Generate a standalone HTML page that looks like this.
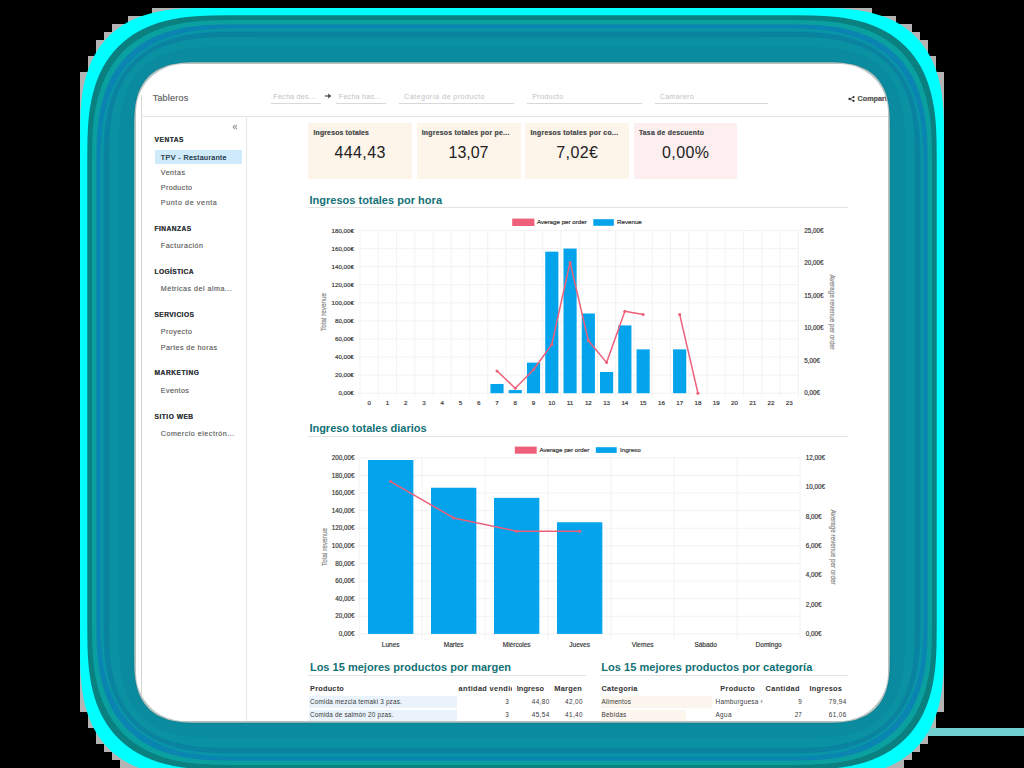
<!DOCTYPE html>
<html><head><meta charset="utf-8"><style>
html,body{margin:0;padding:0;}
body{width:1024px;height:768px;background:#000;overflow:hidden;position:relative;font-family:"Liberation Sans", sans-serif;}
#panel{position:absolute;left:135.6px;top:63.6px;width:752.8px;height:657.8px;border-radius:48px;overflow:hidden;background:#fff;}
#inner{position:absolute;left:-135.6px;top:-63.6px;width:1024px;height:768px;}
#wrap{position:absolute;left:0;top:0;width:1024px;height:768px;}
</style></head><body><div id="wrap">
<svg style="position:absolute;left:0;top:0" width="1024" height="768"><polygon points="80,72 88,72 88,56 96,56 96,40 104,40 104,32 112,32 112,24 128,24 128,16 152,16 152,8 872,8 872,16 896,16 896,24 912,24 912,32 920,32 920,40 928,40 928,56 936,56 936,72 944,72 944,712 936,712 936,728 928,728 928,744 920,744 920,752 912,752 912,760 904,760 904,768 120,768 120,760 112,760 112,752 104,752 104,744 96,744 96,728 88,728 88,712 80,712" fill="#b4b4b4"/>
<rect x="928" y="728" width="96" height="8" fill="#70d0d0"/>
<path d="M814.00,8.00 L830.60,8.15 L841.21,8.58 L850.28,9.31 L858.44,10.34 L865.94,11.65 L872.92,13.25 L879.46,15.15 L885.60,17.33 L891.38,19.80 L896.83,22.57 L901.95,25.62 L906.77,28.96 L911.28,32.59 L915.49,36.51 L919.41,40.72 L923.04,45.23 L926.38,50.05 L929.43,55.17 L932.20,60.62 L934.67,66.40 L936.85,72.54 L938.75,79.08 L940.35,86.06 L941.66,93.56 L942.69,101.72 L943.42,110.79 L943.85,121.40 L944.00,138.00 L944.00,647.00 L943.85,663.60 L943.42,674.21 L942.69,683.28 L941.66,691.44 L940.35,698.94 L938.75,705.92 L936.85,712.46 L934.67,718.60 L932.20,724.38 L929.43,729.83 L926.38,734.95 L923.04,739.77 L919.41,744.28 L915.49,748.49 L911.28,752.41 L906.77,756.04 L901.95,759.38 L896.83,762.43 L891.38,765.20 L885.60,767.67 L879.46,769.85 L872.92,771.75 L865.94,773.35 L858.44,774.66 L850.28,775.69 L841.21,776.42 L830.60,776.85 L814.00,777.00 L210.00,777.00 L193.40,776.85 L182.79,776.42 L173.72,775.69 L165.56,774.66 L158.06,773.35 L151.08,771.75 L144.54,769.85 L138.40,767.67 L132.62,765.20 L127.17,762.43 L122.05,759.38 L117.23,756.04 L112.72,752.41 L108.51,748.49 L104.59,744.28 L100.96,739.77 L97.62,734.95 L94.57,729.83 L91.80,724.38 L89.33,718.60 L87.15,712.46 L85.25,705.92 L83.65,698.94 L82.34,691.44 L81.31,683.28 L80.58,674.21 L80.15,663.60 L80.00,647.00 L80.00,138.00 L80.15,121.40 L80.58,110.79 L81.31,101.72 L82.34,93.56 L83.65,86.06 L85.25,79.08 L87.15,72.54 L89.33,66.40 L91.80,60.62 L94.57,55.17 L97.62,50.05 L100.96,45.23 L104.59,40.72 L108.51,36.51 L112.72,32.59 L117.23,28.96 L122.05,25.62 L127.17,22.57 L132.62,19.80 L138.40,17.33 L144.54,15.15 L151.08,13.25 L158.06,11.65 L165.56,10.34 L173.72,9.31 L182.79,8.58 L193.40,8.15 L210.00,8.00 Z" fill="#00ffff"/>
<path d="M794.70,15.30 L812.84,15.46 L824.42,15.94 L834.33,16.74 L843.24,17.85 L851.44,19.29 L859.06,21.04 L866.20,23.11 L872.91,25.49 L879.23,28.19 L885.18,31.21 L890.77,34.54 L896.03,38.19 L900.96,42.16 L905.56,46.44 L909.84,51.04 L913.81,55.97 L917.46,61.23 L920.79,66.82 L923.81,72.77 L926.51,79.09 L928.89,85.80 L930.96,92.94 L932.71,100.56 L934.15,108.76 L935.26,117.67 L936.06,127.58 L936.54,139.16 L936.70,157.30 L936.70,627.70 L936.54,645.84 L936.06,657.42 L935.26,667.33 L934.15,676.24 L932.71,684.44 L930.96,692.06 L928.89,699.20 L926.51,705.91 L923.81,712.23 L920.79,718.18 L917.46,723.77 L913.81,729.03 L909.84,733.96 L905.56,738.56 L900.96,742.84 L896.03,746.81 L890.77,750.46 L885.18,753.79 L879.23,756.81 L872.91,759.51 L866.20,761.89 L859.06,763.96 L851.44,765.71 L843.24,767.15 L834.33,768.26 L824.42,769.06 L812.84,769.54 L794.70,769.70 L229.30,769.70 L211.16,769.54 L199.58,769.06 L189.67,768.26 L180.76,767.15 L172.56,765.71 L164.94,763.96 L157.80,761.89 L151.09,759.51 L144.77,756.81 L138.82,753.79 L133.23,750.46 L127.97,746.81 L123.04,742.84 L118.44,738.56 L114.16,733.96 L110.19,729.03 L106.54,723.77 L103.21,718.18 L100.19,712.23 L97.49,705.91 L95.11,699.20 L93.04,692.06 L91.29,684.44 L89.85,676.24 L88.74,667.33 L87.94,657.42 L87.46,645.84 L87.30,627.70 L87.30,157.30 L87.46,139.16 L87.94,127.58 L88.74,117.67 L89.85,108.76 L91.29,100.56 L93.04,92.94 L95.11,85.80 L97.49,79.09 L100.19,72.77 L103.21,66.82 L106.54,61.23 L110.19,55.97 L114.16,51.04 L118.44,46.44 L123.04,42.16 L127.97,38.19 L133.23,34.54 L138.82,31.21 L144.77,28.19 L151.09,25.49 L157.80,23.11 L164.94,21.04 L172.56,19.29 L180.76,17.85 L189.67,16.74 L199.58,15.94 L211.16,15.46 L229.30,15.30 Z" fill="#0a8080"/>
<path d="M789.00,20.00 L807.26,20.16 L818.93,20.64 L828.91,21.45 L837.88,22.57 L846.14,24.01 L853.82,25.78 L861.01,27.86 L867.76,30.26 L874.12,32.99 L880.11,36.02 L885.75,39.38 L891.04,43.05 L896.01,47.05 L900.64,51.36 L904.95,55.99 L908.95,60.96 L912.62,66.25 L915.98,71.89 L919.01,77.88 L921.74,84.24 L924.14,90.99 L926.22,98.18 L927.99,105.86 L929.43,114.12 L930.55,123.09 L931.36,133.07 L931.84,144.74 L932.00,163.00 L932.00,622.00 L931.84,640.26 L931.36,651.93 L930.55,661.91 L929.43,670.88 L927.99,679.14 L926.22,686.82 L924.14,694.01 L921.74,700.76 L919.01,707.12 L915.98,713.11 L912.62,718.75 L908.95,724.04 L904.95,729.01 L900.64,733.64 L896.01,737.95 L891.04,741.95 L885.75,745.62 L880.11,748.98 L874.12,752.01 L867.76,754.74 L861.01,757.14 L853.82,759.22 L846.14,760.99 L837.88,762.43 L828.91,763.55 L818.93,764.36 L807.26,764.84 L789.00,765.00 L235.00,765.00 L216.74,764.84 L205.07,764.36 L195.09,763.55 L186.12,762.43 L177.86,760.99 L170.18,759.22 L162.99,757.14 L156.24,754.74 L149.88,752.01 L143.89,748.98 L138.25,745.62 L132.96,741.95 L127.99,737.95 L123.36,733.64 L119.05,729.01 L115.05,724.04 L111.38,718.75 L108.02,713.11 L104.99,707.12 L102.26,700.76 L99.86,694.01 L97.78,686.82 L96.01,679.14 L94.57,670.88 L93.45,661.91 L92.64,651.93 L92.16,640.26 L92.00,622.00 L92.00,163.00 L92.16,144.74 L92.64,133.07 L93.45,123.09 L94.57,114.12 L96.01,105.86 L97.78,98.18 L99.86,90.99 L102.26,84.24 L104.99,77.88 L108.02,71.89 L111.38,66.25 L115.05,60.96 L119.05,55.99 L123.36,51.36 L127.99,47.05 L132.96,43.05 L138.25,39.38 L143.89,36.02 L149.88,32.99 L156.24,30.26 L162.99,27.86 L170.18,25.78 L177.86,24.01 L186.12,22.57 L195.09,21.45 L205.07,20.64 L216.74,20.16 L235.00,20.00 Z" fill="#0aa0a0"/>
<path d="M785.70,24.30 L803.84,24.46 L815.42,24.94 L825.33,25.74 L834.24,26.85 L842.44,28.29 L850.06,30.04 L857.20,32.11 L863.91,34.49 L870.23,37.19 L876.18,40.21 L881.77,43.54 L887.03,47.19 L891.96,51.16 L896.56,55.44 L900.84,60.04 L904.81,64.97 L908.46,70.23 L911.79,75.82 L914.81,81.77 L917.51,88.09 L919.89,94.80 L921.96,101.94 L923.71,109.56 L925.15,117.76 L926.26,126.67 L927.06,136.58 L927.54,148.16 L927.70,166.30 L927.70,618.70 L927.54,636.84 L927.06,648.42 L926.26,658.33 L925.15,667.24 L923.71,675.44 L921.96,683.06 L919.89,690.20 L917.51,696.91 L914.81,703.23 L911.79,709.18 L908.46,714.77 L904.81,720.03 L900.84,724.96 L896.56,729.56 L891.96,733.84 L887.03,737.81 L881.77,741.46 L876.18,744.79 L870.23,747.81 L863.91,750.51 L857.20,752.89 L850.06,754.96 L842.44,756.71 L834.24,758.15 L825.33,759.26 L815.42,760.06 L803.84,760.54 L785.70,760.70 L238.30,760.70 L220.16,760.54 L208.58,760.06 L198.67,759.26 L189.76,758.15 L181.56,756.71 L173.94,754.96 L166.80,752.89 L160.09,750.51 L153.77,747.81 L147.82,744.79 L142.23,741.46 L136.97,737.81 L132.04,733.84 L127.44,729.56 L123.16,724.96 L119.19,720.03 L115.54,714.77 L112.21,709.18 L109.19,703.23 L106.49,696.91 L104.11,690.20 L102.04,683.06 L100.29,675.44 L98.85,667.24 L97.74,658.33 L96.94,648.42 L96.46,636.84 L96.30,618.70 L96.30,166.30 L96.46,148.16 L96.94,136.58 L97.74,126.67 L98.85,117.76 L100.29,109.56 L102.04,101.94 L104.11,94.80 L106.49,88.09 L109.19,81.77 L112.21,75.82 L115.54,70.23 L119.19,64.97 L123.16,60.04 L127.44,55.44 L132.04,51.16 L136.97,47.19 L142.23,43.54 L147.82,40.21 L153.77,37.19 L160.09,34.49 L166.80,32.11 L173.94,30.04 L181.56,28.29 L189.76,26.85 L198.67,25.74 L208.58,24.94 L220.16,24.46 L238.30,24.30 Z" fill="#0a84b0"/>
<path d="M780.70,28.30 L798.96,28.46 L810.63,28.94 L820.61,29.75 L829.58,30.87 L837.84,32.31 L845.52,34.08 L852.71,36.16 L859.46,38.56 L865.82,41.29 L871.81,44.32 L877.45,47.68 L882.74,51.35 L887.71,55.35 L892.34,59.66 L896.65,64.29 L900.65,69.26 L904.32,74.55 L907.68,80.19 L910.71,86.18 L913.44,92.54 L915.84,99.29 L917.92,106.48 L919.69,114.16 L921.13,122.42 L922.25,131.39 L923.06,141.37 L923.54,153.04 L923.70,171.30 L923.70,613.70 L923.54,631.96 L923.06,643.63 L922.25,653.61 L921.13,662.58 L919.69,670.84 L917.92,678.52 L915.84,685.71 L913.44,692.46 L910.71,698.82 L907.68,704.81 L904.32,710.45 L900.65,715.74 L896.65,720.71 L892.34,725.34 L887.71,729.65 L882.74,733.65 L877.45,737.32 L871.81,740.68 L865.82,743.71 L859.46,746.44 L852.71,748.84 L845.52,750.92 L837.84,752.69 L829.58,754.13 L820.61,755.25 L810.63,756.06 L798.96,756.54 L780.70,756.70 L243.30,756.70 L225.04,756.54 L213.37,756.06 L203.39,755.25 L194.42,754.13 L186.16,752.69 L178.48,750.92 L171.29,748.84 L164.54,746.44 L158.18,743.71 L152.19,740.68 L146.55,737.32 L141.26,733.65 L136.29,729.65 L131.66,725.34 L127.35,720.71 L123.35,715.74 L119.68,710.45 L116.32,704.81 L113.29,698.82 L110.56,692.46 L108.16,685.71 L106.08,678.52 L104.31,670.84 L102.87,662.58 L101.75,653.61 L100.94,643.63 L100.46,631.96 L100.30,613.70 L100.30,171.30 L100.46,153.04 L100.94,141.37 L101.75,131.39 L102.87,122.42 L104.31,114.16 L106.08,106.48 L108.16,99.29 L110.56,92.54 L113.29,86.18 L116.32,80.19 L119.68,74.55 L123.35,69.26 L127.35,64.29 L131.66,59.66 L136.29,55.35 L141.26,51.35 L146.55,47.68 L152.19,44.32 L158.18,41.29 L164.54,38.56 L171.29,36.16 L178.48,34.08 L186.16,32.31 L194.42,30.87 L203.39,29.75 L213.37,28.94 L225.04,28.46 L243.30,28.30 Z" fill="#0a94a8"/>
<path d="M784.50,31.50 L801.87,31.65 L812.96,32.11 L822.46,32.88 L830.99,33.94 L838.84,35.32 L846.14,37.00 L852.98,38.98 L859.41,41.26 L865.46,43.85 L871.15,46.74 L876.51,49.93 L881.55,53.42 L886.27,57.22 L890.68,61.32 L894.78,65.73 L898.58,70.45 L902.07,75.49 L905.26,80.85 L908.15,86.54 L910.74,92.59 L913.02,99.02 L915.00,105.86 L916.68,113.16 L918.06,121.01 L919.12,129.54 L919.89,139.04 L920.35,150.13 L920.50,167.50 L920.50,617.50 L920.35,634.87 L919.89,645.96 L919.12,655.46 L918.06,663.99 L916.68,671.84 L915.00,679.14 L913.02,685.98 L910.74,692.41 L908.15,698.46 L905.26,704.15 L902.07,709.51 L898.58,714.55 L894.78,719.27 L890.68,723.68 L886.27,727.78 L881.55,731.58 L876.51,735.07 L871.15,738.26 L865.46,741.15 L859.41,743.74 L852.98,746.02 L846.14,748.00 L838.84,749.68 L830.99,751.06 L822.46,752.12 L812.96,752.89 L801.87,753.35 L784.50,753.50 L239.50,753.50 L222.13,753.35 L211.04,752.89 L201.54,752.12 L193.01,751.06 L185.16,749.68 L177.86,748.00 L171.02,746.02 L164.59,743.74 L158.54,741.15 L152.85,738.26 L147.49,735.07 L142.45,731.58 L137.73,727.78 L133.32,723.68 L129.22,719.27 L125.42,714.55 L121.93,709.51 L118.74,704.15 L115.85,698.46 L113.26,692.41 L110.98,685.98 L109.00,679.14 L107.32,671.84 L105.94,663.99 L104.88,655.46 L104.11,645.96 L103.65,634.87 L103.50,617.50 L103.50,167.50 L103.65,150.13 L104.11,139.04 L104.88,129.54 L105.94,121.01 L107.32,113.16 L109.00,105.86 L110.98,99.02 L113.26,92.59 L115.85,86.54 L118.74,80.85 L121.93,75.49 L125.42,70.45 L129.22,65.73 L133.32,61.32 L137.73,57.22 L142.45,53.42 L147.49,49.93 L152.85,46.74 L158.54,43.85 L164.59,41.26 L171.02,38.98 L177.86,37.00 L185.16,35.32 L193.01,33.94 L201.54,32.88 L211.04,32.11 L222.13,31.65 L239.50,31.50 Z" fill="#0983a0"/>
<path d="M791.80,37.20 L807.51,37.34 L817.54,37.75 L826.13,38.44 L833.85,39.41 L840.95,40.65 L847.55,42.17 L853.73,43.96 L859.55,46.03 L865.02,48.37 L870.17,50.98 L875.02,53.87 L879.57,57.03 L883.84,60.46 L887.83,64.17 L891.54,68.16 L894.97,72.43 L898.13,76.98 L901.02,81.83 L903.63,86.98 L905.97,92.45 L908.04,98.27 L909.83,104.45 L911.35,111.05 L912.59,118.15 L913.56,125.87 L914.25,134.46 L914.66,144.49 L914.80,160.20 L914.80,624.80 L914.66,640.51 L914.25,650.54 L913.56,659.13 L912.59,666.85 L911.35,673.95 L909.83,680.55 L908.04,686.73 L905.97,692.55 L903.63,698.02 L901.02,703.17 L898.13,708.02 L894.97,712.57 L891.54,716.84 L887.83,720.83 L883.84,724.54 L879.57,727.97 L875.02,731.13 L870.17,734.02 L865.02,736.63 L859.55,738.97 L853.73,741.04 L847.55,742.83 L840.95,744.35 L833.85,745.59 L826.13,746.56 L817.54,747.25 L807.51,747.66 L791.80,747.80 L232.20,747.80 L216.49,747.66 L206.46,747.25 L197.87,746.56 L190.15,745.59 L183.05,744.35 L176.45,742.83 L170.27,741.04 L164.45,738.97 L158.98,736.63 L153.83,734.02 L148.98,731.13 L144.43,727.97 L140.16,724.54 L136.17,720.83 L132.46,716.84 L129.03,712.57 L125.87,708.02 L122.98,703.17 L120.37,698.02 L118.03,692.55 L115.96,686.73 L114.17,680.55 L112.65,673.95 L111.41,666.85 L110.44,659.13 L109.75,650.54 L109.34,640.51 L109.20,624.80 L109.20,160.20 L109.34,144.49 L109.75,134.46 L110.44,125.87 L111.41,118.15 L112.65,111.05 L114.17,104.45 L115.96,98.27 L118.03,92.45 L120.37,86.98 L122.98,81.83 L125.87,76.98 L129.03,72.43 L132.46,68.16 L136.17,64.17 L140.16,60.46 L144.43,57.03 L148.98,53.87 L153.83,50.98 L158.98,48.37 L164.45,46.03 L170.27,43.96 L176.45,42.17 L183.05,40.65 L190.15,39.41 L197.87,38.44 L206.46,37.75 L216.49,37.34 L232.20,37.20 Z" fill="#0a92a2"/>
<path d="M805.00,47.00 L817.77,47.11 L825.93,47.45 L832.91,48.01 L839.19,48.80 L844.96,49.81 L850.33,51.04 L855.35,52.50 L860.08,54.18 L864.53,56.08 L868.71,58.21 L872.66,60.55 L876.36,63.12 L879.83,65.91 L883.07,68.93 L886.09,72.17 L888.88,75.64 L891.45,79.34 L893.79,83.29 L895.92,87.47 L897.82,91.92 L899.50,96.65 L900.96,101.67 L902.19,107.04 L903.20,112.81 L903.99,119.09 L904.55,126.07 L904.89,134.23 L905.00,147.00 L905.00,638.00 L904.89,650.77 L904.55,658.93 L903.99,665.91 L903.20,672.19 L902.19,677.96 L900.96,683.33 L899.50,688.35 L897.82,693.08 L895.92,697.53 L893.79,701.71 L891.45,705.66 L888.88,709.36 L886.09,712.83 L883.07,716.07 L879.83,719.09 L876.36,721.88 L872.66,724.45 L868.71,726.79 L864.53,728.92 L860.08,730.82 L855.35,732.50 L850.33,733.96 L844.96,735.19 L839.19,736.20 L832.91,736.99 L825.93,737.55 L817.77,737.89 L805.00,738.00 L219.00,738.00 L206.23,737.89 L198.07,737.55 L191.09,736.99 L184.81,736.20 L179.04,735.19 L173.67,733.96 L168.65,732.50 L163.92,730.82 L159.47,728.92 L155.29,726.79 L151.34,724.45 L147.64,721.88 L144.17,719.09 L140.93,716.07 L137.91,712.83 L135.12,709.36 L132.55,705.66 L130.21,701.71 L128.08,697.53 L126.18,693.08 L124.50,688.35 L123.04,683.33 L121.81,677.96 L120.80,672.19 L120.01,665.91 L119.45,658.93 L119.11,650.77 L119.00,638.00 L119.00,147.00 L119.11,134.23 L119.45,126.07 L120.01,119.09 L120.80,112.81 L121.81,107.04 L123.04,101.67 L124.50,96.65 L126.18,91.92 L128.08,87.47 L130.21,83.29 L132.55,79.34 L135.12,75.64 L137.91,72.17 L140.93,68.93 L144.17,65.91 L147.64,63.12 L151.34,60.55 L155.29,58.21 L159.47,56.08 L163.92,54.18 L168.65,52.50 L173.67,51.04 L179.04,49.81 L184.81,48.80 L191.09,48.01 L198.07,47.45 L206.23,47.11 L219.00,47.00 Z" fill="#0a8ba0"/>
<path d="M823.50,61.50 L832.06,61.58 L837.52,61.80 L842.20,62.18 L846.40,62.70 L850.27,63.38 L853.87,64.21 L857.24,65.18 L860.40,66.31 L863.38,67.58 L866.19,69.01 L868.83,70.58 L871.31,72.30 L873.64,74.17 L875.81,76.19 L877.83,78.36 L879.70,80.69 L881.42,83.17 L882.99,85.81 L884.42,88.62 L885.69,91.60 L886.82,94.76 L887.79,98.13 L888.62,101.73 L889.30,105.60 L889.82,109.80 L890.20,114.48 L890.42,119.94 L890.50,128.50 L890.50,656.50 L890.42,665.06 L890.20,670.52 L889.82,675.20 L889.30,679.40 L888.62,683.27 L887.79,686.87 L886.82,690.24 L885.69,693.40 L884.42,696.38 L882.99,699.19 L881.42,701.83 L879.70,704.31 L877.83,706.64 L875.81,708.81 L873.64,710.83 L871.31,712.70 L868.83,714.42 L866.19,715.99 L863.38,717.42 L860.40,718.69 L857.24,719.82 L853.87,720.79 L850.27,721.62 L846.40,722.30 L842.20,722.82 L837.52,723.20 L832.06,723.42 L823.50,723.50 L200.50,723.50 L191.94,723.42 L186.48,723.20 L181.80,722.82 L177.60,722.30 L173.73,721.62 L170.13,720.79 L166.76,719.82 L163.60,718.69 L160.62,717.42 L157.81,715.99 L155.17,714.42 L152.69,712.70 L150.36,710.83 L148.19,708.81 L146.17,706.64 L144.30,704.31 L142.58,701.83 L141.01,699.19 L139.58,696.38 L138.31,693.40 L137.18,690.24 L136.21,686.87 L135.38,683.27 L134.70,679.40 L134.18,675.20 L133.80,670.52 L133.58,665.06 L133.50,656.50 L133.50,128.50 L133.58,119.94 L133.80,114.48 L134.18,109.80 L134.70,105.60 L135.38,101.73 L136.21,98.13 L137.18,94.76 L138.31,91.60 L139.58,88.62 L141.01,85.81 L142.58,83.17 L144.30,80.69 L146.17,78.36 L148.19,76.19 L150.36,74.17 L152.69,72.30 L155.17,70.58 L157.81,69.01 L160.62,67.58 L163.60,66.31 L166.76,65.18 L170.13,64.21 L173.73,63.38 L177.60,62.70 L181.80,62.18 L186.48,61.80 L191.94,61.58 L200.50,61.50 Z" fill="#0c7e88"/>
<path d="M824.30,62.20 L832.67,62.27 L838.01,62.49 L842.58,62.86 L846.69,63.38 L850.47,64.04 L853.99,64.85 L857.28,65.80 L860.38,66.90 L863.29,68.15 L866.03,69.54 L868.61,71.08 L871.04,72.76 L873.31,74.59 L875.44,76.56 L877.41,78.69 L879.24,80.96 L880.92,83.39 L882.46,85.97 L883.85,88.71 L885.10,91.62 L886.20,94.72 L887.15,98.01 L887.96,101.53 L888.62,105.31 L889.14,109.42 L889.51,113.99 L889.73,119.33 L889.80,127.70 L889.80,657.30 L889.73,665.67 L889.51,671.01 L889.14,675.58 L888.62,679.69 L887.96,683.47 L887.15,686.99 L886.20,690.28 L885.10,693.38 L883.85,696.29 L882.46,699.03 L880.92,701.61 L879.24,704.04 L877.41,706.31 L875.44,708.44 L873.31,710.41 L871.04,712.24 L868.61,713.92 L866.03,715.46 L863.29,716.85 L860.38,718.10 L857.28,719.20 L853.99,720.15 L850.47,720.96 L846.69,721.62 L842.58,722.14 L838.01,722.51 L832.67,722.73 L824.30,722.80 L199.70,722.80 L191.33,722.73 L185.99,722.51 L181.42,722.14 L177.31,721.62 L173.53,720.96 L170.01,720.15 L166.72,719.20 L163.62,718.10 L160.71,716.85 L157.97,715.46 L155.39,713.92 L152.96,712.24 L150.69,710.41 L148.56,708.44 L146.59,706.31 L144.76,704.04 L143.08,701.61 L141.54,699.03 L140.15,696.29 L138.90,693.38 L137.80,690.28 L136.85,686.99 L136.04,683.47 L135.38,679.69 L134.86,675.58 L134.49,671.01 L134.27,665.67 L134.20,657.30 L134.20,127.70 L134.27,119.33 L134.49,113.99 L134.86,109.42 L135.38,105.31 L136.04,101.53 L136.85,98.01 L137.80,94.72 L138.90,91.62 L140.15,88.71 L141.54,85.97 L143.08,83.39 L144.76,80.96 L146.59,78.69 L148.56,76.56 L150.69,74.59 L152.96,72.76 L155.39,71.08 L157.97,69.54 L160.71,68.15 L163.62,66.90 L166.72,65.80 L170.01,64.85 L173.53,64.04 L177.31,63.38 L181.42,62.86 L185.99,62.49 L191.33,62.27 L199.70,62.20 Z" fill="#b7c3c3"/>
</svg>
<div id="panel"><div id="inner">
<div style="position:absolute;left:141px;top:95px;width:1px;height:640px;background:#d4d4d4"></div>
<div style="position:absolute;left:141px;top:116px;width:760px;height:1px;background:#e4e4e4"></div>
<div style="position:absolute;left:246px;top:117px;width:1px;height:620px;background:#e6e6e6"></div>
<div style="position:absolute;left:152.7px;top:93.10px;font-size:9px;line-height:10.80px;color:#777;font-weight:normal;white-space:nowrap;text-shadow:0 0 0.5px currentColor;letter-spacing:0.212px;">Tableros</div>
<div style="position:absolute;left:271px;top:103px;width:50px;height:1px;background:#d8d8d8"></div>
<div style="position:absolute;left:273.3px;top:93.08px;font-size:7.2px;line-height:8.64px;color:#c2c2c2;font-weight:normal;white-space:nowrap;letter-spacing:0.207px;">Fecha des...</div>
<div style="position:absolute;left:336px;top:103px;width:50px;height:1px;background:#d8d8d8"></div>
<div style="position:absolute;left:338.8px;top:93.08px;font-size:7.2px;line-height:8.64px;color:#c2c2c2;font-weight:normal;white-space:nowrap;letter-spacing:0.207px;">Fecha has...</div>
<div style="position:absolute;left:399px;top:103px;width:115px;height:1px;background:#d8d8d8"></div>
<div style="position:absolute;left:404px;top:93.08px;font-size:7.2px;line-height:8.64px;color:#c2c2c2;font-weight:normal;white-space:nowrap;letter-spacing:0.443px;">Categoría de producto</div>
<div style="position:absolute;left:527px;top:103px;width:115px;height:1px;background:#d8d8d8"></div>
<div style="position:absolute;left:532.2px;top:93.08px;font-size:7.2px;line-height:8.64px;color:#c2c2c2;font-weight:normal;white-space:nowrap;letter-spacing:0.312px;">Producto</div>
<div style="position:absolute;left:655px;top:103px;width:113px;height:1px;background:#d8d8d8"></div>
<div style="position:absolute;left:659.8px;top:93.08px;font-size:7.2px;line-height:8.64px;color:#c2c2c2;font-weight:normal;white-space:nowrap;letter-spacing:0.285px;">Camarero</div>
<svg style="position:absolute;left:324px;top:93px" width="8" height="6" viewBox="0 0 8 6"><rect x="0.8" y="2.1" width="3.8" height="1.8" fill="#8a8a8a"/><path d="M4.2 0.6 L7.2 3.1 L4.2 5.6 Z" fill="#454545"/></svg>
<svg style="position:absolute;left:848px;top:95.5px" width="7" height="6" viewBox="0 0 7 6"><circle cx="5.6" cy="1.1" r="1.05" fill="#333"/><circle cx="5.6" cy="4.9" r="1.05" fill="#333"/><circle cx="1.5" cy="3" r="1.15" fill="#333"/><path d="M1.5 3 L5.6 1.1 M1.5 3 L5.6 4.9" stroke="#333" stroke-width="0.8"/></svg>
<div style="position:absolute;left:857.6px;top:94.58px;font-size:7.2px;line-height:8.64px;color:#666;font-weight:bold;white-space:nowrap;text-shadow:0 0 0.5px currentColor;">Compartir</div>
<svg style="position:absolute;left:231px;top:123px" width="8" height="8" viewBox="0 0 8 8"><path d="M3.9 1.9 L2.1 4 L3.9 6.1 M6.1 1.9 L4.3 4 L6.1 6.1" fill="none" stroke="#9a9a9a" stroke-width="1.05"/></svg>
<div style="position:absolute;left:154.5px;top:150px;width:87.5px;height:14px;background:#cfeafa;border-radius:1px"></div>
<div style="position:absolute;left:154.5px;top:135.74px;font-size:6.6px;line-height:7.92px;color:#3a3f44;font-weight:bold;white-space:nowrap;text-shadow:0 0 0.5px currentColor;letter-spacing:0.544px;">VENTAS</div>
<div style="position:absolute;left:154.5px;top:224.64px;font-size:6.6px;line-height:7.92px;color:#3a3f44;font-weight:bold;white-space:nowrap;text-shadow:0 0 0.5px currentColor;letter-spacing:0.477px;">FINANZAS</div>
<div style="position:absolute;left:154.5px;top:268.04px;font-size:6.6px;line-height:7.92px;color:#3a3f44;font-weight:bold;white-space:nowrap;text-shadow:0 0 0.5px currentColor;letter-spacing:0.384px;">LOGÍSTICA</div>
<div style="position:absolute;left:154.5px;top:310.54px;font-size:6.6px;line-height:7.92px;color:#3a3f44;font-weight:bold;white-space:nowrap;text-shadow:0 0 0.5px currentColor;letter-spacing:0.447px;">SERVICIOS</div>
<div style="position:absolute;left:154.5px;top:369.04px;font-size:6.6px;line-height:7.92px;color:#3a3f44;font-weight:bold;white-space:nowrap;text-shadow:0 0 0.5px currentColor;letter-spacing:0.567px;">MARKETING</div>
<div style="position:absolute;left:154.5px;top:412.94px;font-size:6.6px;line-height:7.92px;color:#3a3f44;font-weight:bold;white-space:nowrap;text-shadow:0 0 0.5px currentColor;letter-spacing:0.517px;">SITIO WEB</div>
<div style="position:absolute;left:160.8px;top:153.84px;font-size:7.1px;line-height:8.52px;color:#2d4350;font-weight:normal;white-space:nowrap;text-shadow:0 0 0.5px currentColor;letter-spacing:0.425px;">TPV - Restaurante</div>
<div style="position:absolute;left:160.8px;top:169.14px;font-size:7.1px;line-height:8.52px;color:#7a7a7a;font-weight:normal;white-space:nowrap;text-shadow:0 0 0.5px currentColor;letter-spacing:0.498px;">Ventas</div>
<div style="position:absolute;left:160.8px;top:183.74px;font-size:7.1px;line-height:8.52px;color:#7a7a7a;font-weight:normal;white-space:nowrap;text-shadow:0 0 0.5px currentColor;letter-spacing:0.398px;">Producto</div>
<div style="position:absolute;left:160.8px;top:198.74px;font-size:7.1px;line-height:8.52px;color:#7a7a7a;font-weight:normal;white-space:nowrap;text-shadow:0 0 0.5px currentColor;letter-spacing:0.634px;">Punto de venta</div>
<div style="position:absolute;left:160.8px;top:241.94px;font-size:7.1px;line-height:8.52px;color:#7a7a7a;font-weight:normal;white-space:nowrap;text-shadow:0 0 0.5px currentColor;letter-spacing:0.511px;">Facturación</div>
<div style="position:absolute;left:160.8px;top:285.14px;font-size:7.1px;line-height:8.52px;color:#7a7a7a;font-weight:normal;white-space:nowrap;text-shadow:0 0 0.5px currentColor;letter-spacing:0.497px;">Métricas del alma...</div>
<div style="position:absolute;left:160.8px;top:328.14px;font-size:7.1px;line-height:8.52px;color:#7a7a7a;font-weight:normal;white-space:nowrap;text-shadow:0 0 0.5px currentColor;letter-spacing:0.455px;">Proyecto</div>
<div style="position:absolute;left:160.8px;top:343.94px;font-size:7.1px;line-height:8.52px;color:#7a7a7a;font-weight:normal;white-space:nowrap;text-shadow:0 0 0.5px currentColor;letter-spacing:0.434px;">Partes de horas</div>
<div style="position:absolute;left:160.8px;top:387.34px;font-size:7.1px;line-height:8.52px;color:#7a7a7a;font-weight:normal;white-space:nowrap;text-shadow:0 0 0.5px currentColor;letter-spacing:0.408px;">Eventos</div>
<div style="position:absolute;left:160.8px;top:430.14px;font-size:7.1px;line-height:8.52px;color:#7a7a7a;font-weight:normal;white-space:nowrap;text-shadow:0 0 0.5px currentColor;letter-spacing:0.520px;">Comercio electrón...</div>
<div style="position:absolute;left:308.2px;top:123.4px;width:103.5px;height:56px;background:#fdf4ea"></div>
<div style="position:absolute;left:313.4px;top:128.52px;font-size:6.8px;line-height:8.16px;color:#5a5a5a;font-weight:bold;white-space:nowrap;text-shadow:0 0 0.5px currentColor;letter-spacing:0.224px;">Ingresos totales</div>
<div style="position:absolute;left:308.2px;top:142.6px;width:103.5px;text-align:center;font-size:16px;line-height:20px;color:#222;letter-spacing:0.434px;text-indent:0.434px">444,43</div>
<div style="position:absolute;left:416.5px;top:123.4px;width:104.0px;height:56px;background:#fdf4ea"></div>
<div style="position:absolute;left:421.7px;top:128.52px;font-size:6.8px;line-height:8.16px;color:#5a5a5a;font-weight:bold;white-space:nowrap;text-shadow:0 0 0.5px currentColor;letter-spacing:0.289px;">Ingresos totales por pe...</div>
<div style="position:absolute;left:416.5px;top:142.6px;width:104.0px;text-align:center;font-size:16px;line-height:20px;color:#222;letter-spacing:-0.059px;text-indent:-0.059px">13,07</div>
<div style="position:absolute;left:525.2px;top:123.4px;width:103.8px;height:56px;background:#fdf4ea"></div>
<div style="position:absolute;left:530.4000000000001px;top:128.52px;font-size:6.8px;line-height:8.16px;color:#5a5a5a;font-weight:bold;white-space:nowrap;text-shadow:0 0 0.5px currentColor;letter-spacing:0.289px;">Ingresos totales por co...</div>
<div style="position:absolute;left:525.2px;top:142.6px;width:103.8px;text-align:center;font-size:16px;line-height:20px;color:#222;letter-spacing:0.416px;text-indent:0.416px">7,02€</div>
<div style="position:absolute;left:633.7px;top:123.4px;width:103.6px;height:56px;background:#fdeef0"></div>
<div style="position:absolute;left:638.9000000000001px;top:128.52px;font-size:6.8px;line-height:8.16px;color:#5a5a5a;font-weight:bold;white-space:nowrap;text-shadow:0 0 0.5px currentColor;letter-spacing:0.268px;">Tasa de descuento</div>
<div style="position:absolute;left:633.7px;top:142.6px;width:103.6px;text-align:center;font-size:16px;line-height:20px;color:#222;letter-spacing:0.384px;text-indent:0.384px">0,00%</div>
<div style="position:absolute;left:309.4px;top:193.90px;font-size:11px;line-height:13.20px;color:#127176;font-weight:bold;white-space:nowrap;letter-spacing:0.024px;">Ingresos totales por hora</div>
<div style="position:absolute;left:308px;top:207px;width:540px;height:1px;background:#e2e2e2"></div>
<div style="position:absolute;left:309.4px;top:422.00px;font-size:11px;line-height:13.20px;color:#127176;font-weight:bold;white-space:nowrap;letter-spacing:-0.007px;">Ingreso totales diarios</div>
<div style="position:absolute;left:308px;top:435.7px;width:540px;height:1px;background:#e2e2e2"></div>
<div style="position:absolute;left:309.9px;top:660.90px;font-size:11px;line-height:13.20px;color:#127176;font-weight:bold;white-space:nowrap;letter-spacing:0.018px;">Los 15 mejores productos por margen</div>
<div style="position:absolute;left:308px;top:675px;width:278px;height:1px;background:#e2e2e2"></div>
<div style="position:absolute;left:601.3px;top:660.90px;font-size:11px;line-height:13.20px;color:#127176;font-weight:bold;white-space:nowrap;letter-spacing:0.036px;">Los 15 mejores productos por categoría</div>
<div style="position:absolute;left:600px;top:675px;width:248px;height:1px;background:#e2e2e2"></div>
<svg style="position:absolute;left:0;top:0" width="1024" height="768" font-family='"Liberation Sans", sans-serif'><style>text{stroke:currentColor;stroke-width:0.18px;}</style>
<line x1="358.0" y1="393.20" x2="798.4" y2="393.20" stroke="#efefef" stroke-width="0.8"/>
<text x="353.8" y="395.30" font-size="6.15" fill="#383838" color="#383838" text-anchor="end">0,00€</text>
<line x1="358.0" y1="375.12" x2="798.4" y2="375.12" stroke="#efefef" stroke-width="0.8"/>
<text x="353.8" y="377.22" font-size="6.15" fill="#383838" color="#383838" text-anchor="end">20,00€</text>
<line x1="358.0" y1="357.04" x2="798.4" y2="357.04" stroke="#efefef" stroke-width="0.8"/>
<text x="353.8" y="359.14" font-size="6.15" fill="#383838" color="#383838" text-anchor="end">40,00€</text>
<line x1="358.0" y1="338.97" x2="798.4" y2="338.97" stroke="#efefef" stroke-width="0.8"/>
<text x="353.8" y="341.07" font-size="6.15" fill="#383838" color="#383838" text-anchor="end">60,00€</text>
<line x1="358.0" y1="320.89" x2="798.4" y2="320.89" stroke="#efefef" stroke-width="0.8"/>
<text x="353.8" y="322.99" font-size="6.15" fill="#383838" color="#383838" text-anchor="end">80,00€</text>
<line x1="358.0" y1="302.81" x2="798.4" y2="302.81" stroke="#efefef" stroke-width="0.8"/>
<text x="353.8" y="304.91" font-size="6.15" fill="#383838" color="#383838" text-anchor="end">100,00€</text>
<line x1="358.0" y1="284.73" x2="798.4" y2="284.73" stroke="#efefef" stroke-width="0.8"/>
<text x="353.8" y="286.83" font-size="6.15" fill="#383838" color="#383838" text-anchor="end">120,00€</text>
<line x1="358.0" y1="266.66" x2="798.4" y2="266.66" stroke="#efefef" stroke-width="0.8"/>
<text x="353.8" y="268.76" font-size="6.15" fill="#383838" color="#383838" text-anchor="end">140,00€</text>
<line x1="358.0" y1="248.58" x2="798.4" y2="248.58" stroke="#efefef" stroke-width="0.8"/>
<text x="353.8" y="250.68" font-size="6.15" fill="#383838" color="#383838" text-anchor="end">160,00€</text>
<line x1="358.0" y1="230.50" x2="798.4" y2="230.50" stroke="#efefef" stroke-width="0.8"/>
<text x="353.8" y="232.60" font-size="6.15" fill="#383838" color="#383838" text-anchor="end">180,00€</text>
<line x1="360.00" y1="230.5" x2="360.00" y2="397.2" stroke="#efefef" stroke-width="0.8"/>
<line x1="378.27" y1="230.5" x2="378.27" y2="397.2" stroke="#efefef" stroke-width="0.8"/>
<line x1="396.53" y1="230.5" x2="396.53" y2="397.2" stroke="#efefef" stroke-width="0.8"/>
<line x1="414.80" y1="230.5" x2="414.80" y2="397.2" stroke="#efefef" stroke-width="0.8"/>
<line x1="433.07" y1="230.5" x2="433.07" y2="397.2" stroke="#efefef" stroke-width="0.8"/>
<line x1="451.33" y1="230.5" x2="451.33" y2="397.2" stroke="#efefef" stroke-width="0.8"/>
<line x1="469.60" y1="230.5" x2="469.60" y2="397.2" stroke="#efefef" stroke-width="0.8"/>
<line x1="487.87" y1="230.5" x2="487.87" y2="397.2" stroke="#efefef" stroke-width="0.8"/>
<line x1="506.13" y1="230.5" x2="506.13" y2="397.2" stroke="#efefef" stroke-width="0.8"/>
<line x1="524.40" y1="230.5" x2="524.40" y2="397.2" stroke="#efefef" stroke-width="0.8"/>
<line x1="542.67" y1="230.5" x2="542.67" y2="397.2" stroke="#efefef" stroke-width="0.8"/>
<line x1="560.93" y1="230.5" x2="560.93" y2="397.2" stroke="#efefef" stroke-width="0.8"/>
<line x1="579.20" y1="230.5" x2="579.20" y2="397.2" stroke="#efefef" stroke-width="0.8"/>
<line x1="597.47" y1="230.5" x2="597.47" y2="397.2" stroke="#efefef" stroke-width="0.8"/>
<line x1="615.73" y1="230.5" x2="615.73" y2="397.2" stroke="#efefef" stroke-width="0.8"/>
<line x1="634.00" y1="230.5" x2="634.00" y2="397.2" stroke="#efefef" stroke-width="0.8"/>
<line x1="652.27" y1="230.5" x2="652.27" y2="397.2" stroke="#efefef" stroke-width="0.8"/>
<line x1="670.53" y1="230.5" x2="670.53" y2="397.2" stroke="#efefef" stroke-width="0.8"/>
<line x1="688.80" y1="230.5" x2="688.80" y2="397.2" stroke="#efefef" stroke-width="0.8"/>
<line x1="707.07" y1="230.5" x2="707.07" y2="397.2" stroke="#efefef" stroke-width="0.8"/>
<line x1="725.33" y1="230.5" x2="725.33" y2="397.2" stroke="#efefef" stroke-width="0.8"/>
<line x1="743.60" y1="230.5" x2="743.60" y2="397.2" stroke="#efefef" stroke-width="0.8"/>
<line x1="761.87" y1="230.5" x2="761.87" y2="397.2" stroke="#efefef" stroke-width="0.8"/>
<line x1="780.13" y1="230.5" x2="780.13" y2="397.2" stroke="#efefef" stroke-width="0.8"/>
<line x1="798.40" y1="230.5" x2="798.40" y2="397.2" stroke="#efefef" stroke-width="0.8"/>
<text x="804.2" y="395.30" font-size="6.3" fill="#383838" color="#383838">0,00€</text>
<text x="804.2" y="362.76" font-size="6.3" fill="#383838" color="#383838">5,00€</text>
<text x="804.2" y="330.22" font-size="6.3" fill="#383838" color="#383838">10,00€</text>
<text x="804.2" y="297.68" font-size="6.3" fill="#383838" color="#383838">15,00€</text>
<text x="804.2" y="265.14" font-size="6.3" fill="#383838" color="#383838">20,00€</text>
<text x="804.2" y="232.60" font-size="6.3" fill="#383838" color="#383838">25,00€</text>
<text x="369.13" y="405.4" font-size="6.2" fill="#383838" color="#383838" text-anchor="middle">0</text>
<text x="387.40" y="405.4" font-size="6.2" fill="#383838" color="#383838" text-anchor="middle">1</text>
<text x="405.67" y="405.4" font-size="6.2" fill="#383838" color="#383838" text-anchor="middle">2</text>
<text x="423.93" y="405.4" font-size="6.2" fill="#383838" color="#383838" text-anchor="middle">3</text>
<text x="442.20" y="405.4" font-size="6.2" fill="#383838" color="#383838" text-anchor="middle">4</text>
<text x="460.47" y="405.4" font-size="6.2" fill="#383838" color="#383838" text-anchor="middle">5</text>
<text x="478.73" y="405.4" font-size="6.2" fill="#383838" color="#383838" text-anchor="middle">6</text>
<text x="497.00" y="405.4" font-size="6.2" fill="#383838" color="#383838" text-anchor="middle">7</text>
<text x="515.27" y="405.4" font-size="6.2" fill="#383838" color="#383838" text-anchor="middle">8</text>
<text x="533.53" y="405.4" font-size="6.2" fill="#383838" color="#383838" text-anchor="middle">9</text>
<text x="551.80" y="405.4" font-size="6.2" fill="#383838" color="#383838" text-anchor="middle">10</text>
<text x="570.07" y="405.4" font-size="6.2" fill="#383838" color="#383838" text-anchor="middle">11</text>
<text x="588.33" y="405.4" font-size="6.2" fill="#383838" color="#383838" text-anchor="middle">12</text>
<text x="606.60" y="405.4" font-size="6.2" fill="#383838" color="#383838" text-anchor="middle">13</text>
<text x="624.87" y="405.4" font-size="6.2" fill="#383838" color="#383838" text-anchor="middle">14</text>
<text x="643.13" y="405.4" font-size="6.2" fill="#383838" color="#383838" text-anchor="middle">15</text>
<text x="661.40" y="405.4" font-size="6.2" fill="#383838" color="#383838" text-anchor="middle">16</text>
<text x="679.67" y="405.4" font-size="6.2" fill="#383838" color="#383838" text-anchor="middle">17</text>
<text x="697.93" y="405.4" font-size="6.2" fill="#383838" color="#383838" text-anchor="middle">18</text>
<text x="716.20" y="405.4" font-size="6.2" fill="#383838" color="#383838" text-anchor="middle">19</text>
<text x="734.47" y="405.4" font-size="6.2" fill="#383838" color="#383838" text-anchor="middle">20</text>
<text x="752.73" y="405.4" font-size="6.2" fill="#383838" color="#383838" text-anchor="middle">21</text>
<text x="771.00" y="405.4" font-size="6.2" fill="#383838" color="#383838" text-anchor="middle">22</text>
<text x="789.27" y="405.4" font-size="6.2" fill="#383838" color="#383838" text-anchor="middle">23</text>
<rect x="490.42" y="383.98" width="13.15" height="9.22" fill="#04a4ec"/>
<rect x="508.69" y="390.04" width="13.15" height="3.16" fill="#04a4ec"/>
<rect x="526.96" y="362.65" width="13.15" height="30.55" fill="#04a4ec"/>
<rect x="545.22" y="251.65" width="13.15" height="141.55" fill="#04a4ec"/>
<rect x="563.49" y="248.58" width="13.15" height="144.62" fill="#04a4ec"/>
<rect x="581.76" y="313.48" width="13.15" height="79.72" fill="#04a4ec"/>
<rect x="600.02" y="371.96" width="13.15" height="21.24" fill="#04a4ec"/>
<rect x="618.29" y="325.41" width="13.15" height="67.79" fill="#04a4ec"/>
<rect x="636.56" y="349.36" width="13.15" height="43.84" fill="#04a4ec"/>
<rect x="673.09" y="349.36" width="13.15" height="43.84" fill="#04a4ec"/>
<polyline points="497.00,371.01 515.27,388.19 533.53,369.77 551.80,344.39 570.07,262.39 588.33,340.49 606.60,362.61 624.87,311.20 643.13,314.45" fill="none" stroke="#ee5f79" stroke-width="1.5" stroke-linejoin="round"/>
<circle cx="497.00" cy="371.01" r="1.5" fill="#ee5f79"/>
<circle cx="515.27" cy="388.19" r="1.5" fill="#ee5f79"/>
<circle cx="533.53" cy="369.77" r="1.5" fill="#ee5f79"/>
<circle cx="551.80" cy="344.39" r="1.5" fill="#ee5f79"/>
<circle cx="570.07" cy="262.39" r="1.5" fill="#ee5f79"/>
<circle cx="588.33" cy="340.49" r="1.5" fill="#ee5f79"/>
<circle cx="606.60" cy="362.61" r="1.5" fill="#ee5f79"/>
<circle cx="624.87" cy="311.20" r="1.5" fill="#ee5f79"/>
<circle cx="643.13" cy="314.45" r="1.5" fill="#ee5f79"/>
<polyline points="679.67,314.45 697.93,393.20" fill="none" stroke="#ee5f79" stroke-width="1.5" stroke-linejoin="round"/>
<circle cx="679.67" cy="314.45" r="1.5" fill="#ee5f79"/>
<circle cx="697.93" cy="393.20" r="1.5" fill="#ee5f79"/>
<text x="0" y="0" font-size="6.3" fill="#888" color="#888" text-anchor="middle" transform="translate(326.2,312) rotate(-90)">Total revenue</text>
<text x="0" y="0" font-size="6.3" fill="#888" color="#888" text-anchor="middle" transform="translate(829.8,312) rotate(90)">Average revenue per order</text>
<rect x="512.2" y="218.6" width="22.2" height="7.4" fill="#ee5f79"/>
<text x="537" y="224.2" font-size="6.2" fill="#333" color="#333">Average per order</text>
<rect x="593.3" y="219.2" width="20.5" height="6.6" fill="#04a4ec"/>
<text x="617" y="224.2" font-size="6.2" fill="#333" color="#333">Revenue</text>
<line x1="357.2" y1="633.90" x2="800.1" y2="633.90" stroke="#efefef" stroke-width="0.8"/>
<text x="354.4" y="636.00" font-size="6.3" fill="#383838" color="#383838" text-anchor="end">0,00€</text>
<line x1="357.2" y1="616.29" x2="800.1" y2="616.29" stroke="#efefef" stroke-width="0.8"/>
<text x="354.4" y="618.39" font-size="6.3" fill="#383838" color="#383838" text-anchor="end">20,00€</text>
<line x1="357.2" y1="598.68" x2="800.1" y2="598.68" stroke="#efefef" stroke-width="0.8"/>
<text x="354.4" y="600.78" font-size="6.3" fill="#383838" color="#383838" text-anchor="end">40,00€</text>
<line x1="357.2" y1="581.07" x2="800.1" y2="581.07" stroke="#efefef" stroke-width="0.8"/>
<text x="354.4" y="583.17" font-size="6.3" fill="#383838" color="#383838" text-anchor="end">60,00€</text>
<line x1="357.2" y1="563.46" x2="800.1" y2="563.46" stroke="#efefef" stroke-width="0.8"/>
<text x="354.4" y="565.56" font-size="6.3" fill="#383838" color="#383838" text-anchor="end">80,00€</text>
<line x1="357.2" y1="545.85" x2="800.1" y2="545.85" stroke="#efefef" stroke-width="0.8"/>
<text x="354.4" y="547.95" font-size="6.3" fill="#383838" color="#383838" text-anchor="end">100,00€</text>
<line x1="357.2" y1="528.24" x2="800.1" y2="528.24" stroke="#efefef" stroke-width="0.8"/>
<text x="354.4" y="530.34" font-size="6.3" fill="#383838" color="#383838" text-anchor="end">120,00€</text>
<line x1="357.2" y1="510.63" x2="800.1" y2="510.63" stroke="#efefef" stroke-width="0.8"/>
<text x="354.4" y="512.73" font-size="6.3" fill="#383838" color="#383838" text-anchor="end">140,00€</text>
<line x1="357.2" y1="493.02" x2="800.1" y2="493.02" stroke="#efefef" stroke-width="0.8"/>
<text x="354.4" y="495.12" font-size="6.3" fill="#383838" color="#383838" text-anchor="end">160,00€</text>
<line x1="357.2" y1="475.41" x2="800.1" y2="475.41" stroke="#efefef" stroke-width="0.8"/>
<text x="354.4" y="477.51" font-size="6.3" fill="#383838" color="#383838" text-anchor="end">180,00€</text>
<line x1="357.2" y1="457.80" x2="800.1" y2="457.80" stroke="#efefef" stroke-width="0.8"/>
<text x="354.4" y="459.90" font-size="6.3" fill="#383838" color="#383838" text-anchor="end">200,00€</text>
<line x1="359.20" y1="457.8" x2="359.20" y2="638.9" stroke="#efefef" stroke-width="0.8"/>
<line x1="422.19" y1="457.8" x2="422.19" y2="638.9" stroke="#efefef" stroke-width="0.8"/>
<line x1="485.17" y1="457.8" x2="485.17" y2="638.9" stroke="#efefef" stroke-width="0.8"/>
<line x1="548.16" y1="457.8" x2="548.16" y2="638.9" stroke="#efefef" stroke-width="0.8"/>
<line x1="611.14" y1="457.8" x2="611.14" y2="638.9" stroke="#efefef" stroke-width="0.8"/>
<line x1="674.13" y1="457.8" x2="674.13" y2="638.9" stroke="#efefef" stroke-width="0.8"/>
<line x1="737.11" y1="457.8" x2="737.11" y2="638.9" stroke="#efefef" stroke-width="0.8"/>
<line x1="800.10" y1="457.8" x2="800.10" y2="638.9" stroke="#efefef" stroke-width="0.8"/>
<text x="805.8" y="636.00" font-size="6.3" fill="#383838" color="#383838">0,00€</text>
<text x="805.8" y="606.65" font-size="6.3" fill="#383838" color="#383838">2,00€</text>
<text x="805.8" y="577.30" font-size="6.3" fill="#383838" color="#383838">4,00€</text>
<text x="805.8" y="547.95" font-size="6.3" fill="#383838" color="#383838">6,00€</text>
<text x="805.8" y="518.60" font-size="6.3" fill="#383838" color="#383838">8,00€</text>
<text x="805.8" y="489.25" font-size="6.3" fill="#383838" color="#383838">10,00€</text>
<text x="805.8" y="459.90" font-size="6.3" fill="#383838" color="#383838">12,00€</text>
<text x="390.69" y="646.5" font-size="6.5" fill="#383838" color="#383838" text-anchor="middle">Lunes</text>
<text x="453.68" y="646.5" font-size="6.5" fill="#383838" color="#383838" text-anchor="middle">Martes</text>
<text x="516.66" y="646.5" font-size="6.5" fill="#383838" color="#383838" text-anchor="middle">Miércoles</text>
<text x="579.65" y="646.5" font-size="6.5" fill="#383838" color="#383838" text-anchor="middle">Jueves</text>
<text x="642.64" y="646.5" font-size="6.5" fill="#383838" color="#383838" text-anchor="middle">Viernes</text>
<text x="705.62" y="646.5" font-size="6.5" fill="#383838" color="#383838" text-anchor="middle">Sábado</text>
<text x="768.61" y="646.5" font-size="6.5" fill="#383838" color="#383838" text-anchor="middle">Domingo</text>
<rect x="368.02" y="460.00" width="45.35" height="173.90" fill="#04a4ec"/>
<rect x="431.00" y="487.74" width="45.35" height="146.16" fill="#04a4ec"/>
<rect x="493.99" y="497.86" width="45.35" height="136.04" fill="#04a4ec"/>
<rect x="556.98" y="522.25" width="45.35" height="111.65" fill="#04a4ec"/>
<path d="M390.69,481.57 L453.68,517.97 L516.66,531.17 L579.65,531.17" fill="none" stroke="#ee5f79" stroke-width="1.5" stroke-linejoin="round"/>
<circle cx="390.69" cy="481.57" r="1.5" fill="#ee5f79"/>
<circle cx="453.68" cy="517.97" r="1.5" fill="#ee5f79"/>
<circle cx="516.66" cy="531.17" r="1.5" fill="#ee5f79"/>
<circle cx="579.65" cy="531.17" r="1.5" fill="#ee5f79"/>
<text x="0" y="0" font-size="6.3" fill="#888" color="#888" text-anchor="middle" transform="translate(326.5,547) rotate(-90)">Total revenue</text>
<text x="0" y="0" font-size="6.3" fill="#888" color="#888" text-anchor="middle" transform="translate(830.6,547) rotate(90)">Average revenue per order</text>
<rect x="514.8" y="446.6" width="21.9" height="7.1" fill="#ee5f79"/>
<text x="539.5" y="452" font-size="6.2" fill="#333" color="#333">Average per order</text>
<rect x="595.8" y="447.2" width="20.9" height="5.7" fill="#04a4ec"/>
<text x="620" y="452" font-size="6.2" fill="#333" color="#333">Ingreso</text>
</svg>
<div style="position:absolute;left:310px;top:685.06px;font-size:7.4px;line-height:8.88px;color:#333;font-weight:bold;white-space:nowrap;letter-spacing:0.204px;">Producto</div>
<div style="position:absolute;left:458px;top:683px;width:53.5px;height:10px;overflow:hidden"><div style="position:absolute;left:0.6px;top:2.06px;font-size:7.4px;line-height:8.88px;color:#333;font-weight:bold;white-space:nowrap;letter-spacing:0.334px;">antidad vendida</div></div>
<div style="position:absolute;left:516.7px;top:685.06px;font-size:7.4px;line-height:8.88px;color:#333;font-weight:bold;white-space:nowrap;letter-spacing:0.096px;">Ingreso</div>
<div style="position:absolute;left:554.3px;top:685.06px;font-size:7.4px;line-height:8.88px;color:#333;font-weight:bold;white-space:nowrap;letter-spacing:0.237px;">Margen</div>
<div style="position:absolute;left:309px;top:695.5px;width:148px;height:12.5px;background:#eaf3fb"></div>
<div style="position:absolute;left:309px;top:709.5px;width:148px;height:12.5px;background:#eaf3fb"></div>
<div style="position:absolute;left:310px;top:697.96px;font-size:6.4px;line-height:7.68px;color:#3a3a3a;font-weight:normal;white-space:nowrap;letter-spacing:0.180px;">Comida mezcla temaki 3 pzas.</div>
<div style="position:absolute;right:515.3px;top:698.00px;font-size:6.4px;line-height:7.6px;color:#3a3a3a;letter-spacing:0.000px;margin-right:-0.000px">3</div>
<div style="position:absolute;right:474.79999999999995px;top:698.00px;font-size:6.4px;line-height:7.6px;color:#3a3a3a;letter-spacing:0.372px;margin-right:-0.372px">44,80</div>
<div style="position:absolute;right:441.4px;top:698.00px;font-size:6.4px;line-height:7.6px;color:#3a3a3a;letter-spacing:0.372px;margin-right:-0.372px">42,00</div>
<div style="position:absolute;left:310px;top:711.26px;font-size:6.4px;line-height:7.68px;color:#3a3a3a;font-weight:normal;white-space:nowrap;letter-spacing:0.174px;">Comida de salmón 20 pzas.</div>
<div style="position:absolute;right:515.3px;top:711.30px;font-size:6.4px;line-height:7.6px;color:#3a3a3a;letter-spacing:0.000px;margin-right:-0.000px">3</div>
<div style="position:absolute;right:474.79999999999995px;top:711.30px;font-size:6.4px;line-height:7.6px;color:#3a3a3a;letter-spacing:0.372px;margin-right:-0.372px">45,54</div>
<div style="position:absolute;right:441.4px;top:711.30px;font-size:6.4px;line-height:7.6px;color:#3a3a3a;letter-spacing:0.372px;margin-right:-0.372px">41,40</div>
<div style="position:absolute;left:601.5px;top:685.06px;font-size:7.4px;line-height:8.88px;color:#333;font-weight:bold;white-space:nowrap;letter-spacing:0.234px;">Categoría</div>
<div style="position:absolute;left:720.3px;top:685.06px;font-size:7.4px;line-height:8.88px;color:#333;font-weight:bold;white-space:nowrap;letter-spacing:0.289px;">Producto</div>
<div style="position:absolute;left:765.6px;top:685.06px;font-size:7.4px;line-height:8.88px;color:#333;font-weight:bold;white-space:nowrap;letter-spacing:0.335px;">Cantidad</div>
<div style="position:absolute;left:809.5px;top:685.06px;font-size:7.4px;line-height:8.88px;color:#333;font-weight:bold;white-space:nowrap;letter-spacing:0.237px;">Ingresos</div>
<div style="position:absolute;left:601px;top:695.5px;width:111px;height:12.5px;background:#fdf6ee"></div>
<div style="position:absolute;left:601px;top:709.5px;width:85px;height:12.5px;background:#fdf6ee"></div>
<div style="position:absolute;left:601.5px;top:697.96px;font-size:6.4px;line-height:7.68px;color:#3a3a3a;font-weight:normal;white-space:nowrap;letter-spacing:0.175px;">Alimentos</div>
<div style="position:absolute;left:715.5px;top:697.96px;font-size:6.4px;line-height:7.68px;color:#3a3a3a;font-weight:normal;white-space:nowrap;letter-spacing:0.266px;">Hamburguesa ‹</div>
<div style="position:absolute;right:222.20000000000005px;top:698.00px;font-size:6.4px;line-height:7.6px;color:#3a3a3a;letter-spacing:0.000px;margin-right:-0.000px">9</div>
<div style="position:absolute;right:177.70000000000005px;top:698.00px;font-size:6.4px;line-height:7.6px;color:#3a3a3a;letter-spacing:0.372px;margin-right:-0.372px">79,94</div>
<div style="position:absolute;left:601.5px;top:711.26px;font-size:6.4px;line-height:7.68px;color:#3a3a3a;font-weight:normal;white-space:nowrap;letter-spacing:0.279px;">Bebidas</div>
<div style="position:absolute;left:715.5px;top:711.26px;font-size:6.4px;line-height:7.68px;color:#3a3a3a;font-weight:normal;white-space:nowrap;letter-spacing:0.351px;">Agua</div>
<div style="position:absolute;right:222.20000000000005px;top:711.30px;font-size:6.4px;line-height:7.6px;color:#3a3a3a;letter-spacing:0.000px;margin-right:-0.000px">27</div>
<div style="position:absolute;right:177.70000000000005px;top:711.30px;font-size:6.4px;line-height:7.6px;color:#3a3a3a;letter-spacing:0.372px;margin-right:-0.372px">61,06</div>
</div></div>
</div></body></html>
